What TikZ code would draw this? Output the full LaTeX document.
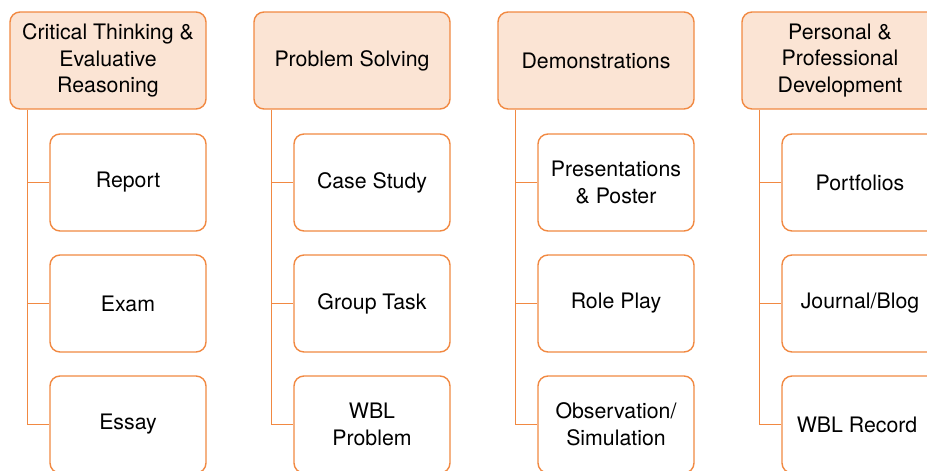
\documentclass[tikz,border=0pt]{standalone}
\usepackage{fontspec}
\setmainfont{TeX Gyre Heros}
\usetikzlibrary{positioning}

\definecolor{accent}{RGB}{241,137,66}
\definecolor{accentfill}{RGB}{251,228,212}

\tikzset{
    box/.style={draw=accent, line width=1.4pt, rounded corners=10pt,
        minimum height=97pt, align=center, inner sep=2pt,
        font=\fontsize{21.3}{26.8}\selectfont},
    headbox/.style={box, fill=accentfill, minimum width=196pt},
    leafbox/.style={box, fill=white, minimum width=156pt},
    link/.style={draw=accent, line width=1.4pt}
}

\begin{document}
\begin{tikzpicture}[x=1pt, y=-1pt, node distance=22.6pt]
        \useasboundingbox (0,0) rectangle (927,471);
        \foreach \i/\head/\first/\second/\third in {
            0/{Critical Thinking \&\\Evaluative\\Reasoning}/{Report}/{Exam}/{Essay},
            1/{Problem Solving}/{Case Study}/{Group Task}/{WBL\\Problem},
            2/{Demonstrations}/{Presentations\\\& Poster}/{Role Play}/{Observation/\\Simulation},
            3/{Personal \&\\Professional\\Development}/{Portfolios}/{Journal/Blog}/{WBL Record}
        } {
            \node[headbox] (h\i) at (\i*244+108, 60.5) {\head};
            \node[leafbox, below=23.6pt of h\i, xshift=20pt] (c\i-1) {\first};
            \node[leafbox, below=of c\i-1] (c\i-2) {\second};
            \node[leafbox, below=of c\i-2] (c\i-3) {\third};
            % trunk and branches
            \coordinate (t\i) at ([xshift=18pt]h\i.south west);
            \draw[link] (t\i) |- (c\i-3.west);
            \draw[link] (t\i |- c\i-1.west) -- (c\i-1.west);
            \draw[link] (t\i |- c\i-2.west) -- (c\i-2.west);
        }
    \end{tikzpicture}
\end{document}
